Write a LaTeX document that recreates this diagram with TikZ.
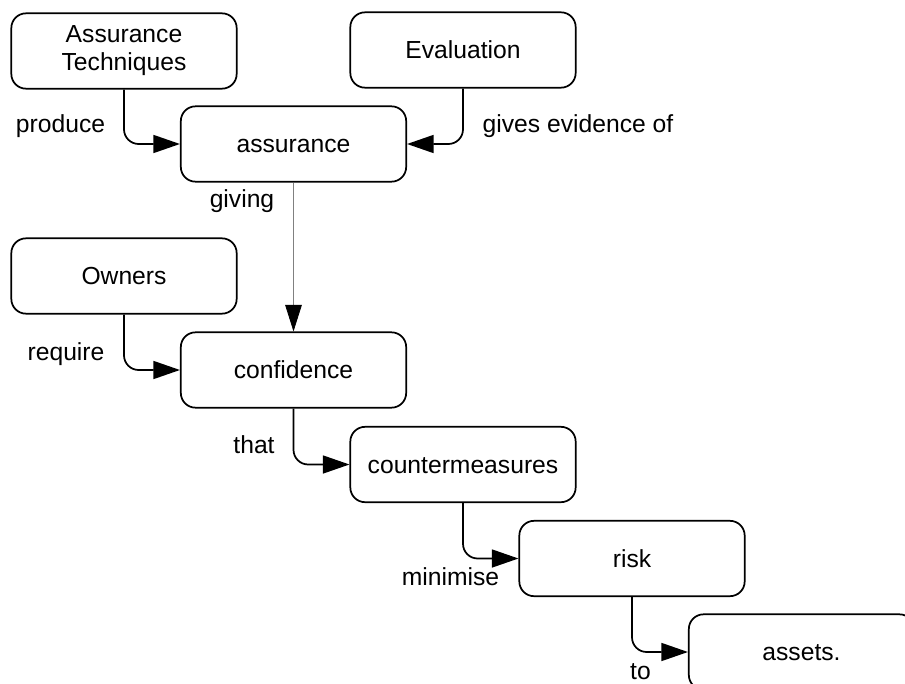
\documentclass[tikz,border=0pt]{standalone}
\usepackage{fontspec}
\setmainfont{Liberation Sans}
\usetikzlibrary{arrows.meta}

\begin{document}
\begin{tikzpicture}[x=0.75pt,y=0.75pt,yscale=-1,xscale=1,
    box/.style={draw, line width=1.3pt, rounded corners=11pt, minimum width=169pt, minimum height=56.5pt, inner sep=0pt,
        font=\fontsize{18.5pt}{21pt}\selectfont, text height=13.2pt, text depth=0pt},
    lbl/.style={anchor=base, inner sep=0pt, font=\fontsize{18.5pt}{21pt}\selectfont},
    conn/.style={line width=1.3pt, rounded corners=11pt, -{Triangle[length=20pt,width=13.5pt]}},
    link/.style={line width=0.6pt, draw=gray, -{Triangle[length=20pt,width=12.5pt,black]}}]
        \useasboundingbox (0,0) rectangle (905,684);
        \clip (0,0) rectangle (905,684);
        %Shape: Rounded Rect [id:tech]
        \node [box, align=center, text height=, text depth=] (tech) at (124,51) {Assurance\\Techniques};
        %Shape: Rounded Rect [id:eval]
        \node [box] (eval) at (463,50) {Evaluation};
        %Shape: Rounded Rect [id:asr]
        \node [box] (asr) at (293.5,144) {assurance};
        %Shape: Rounded Rect [id:own]
        \node [box] (own) at (124,276) {Owners};
        %Shape: Rounded Rect [id:conf]
        \node [box] (conf) at (293.5,370) {confidence};
        %Shape: Rounded Rect [id:cm]
        \node [box] (cm) at (463,464.5) {countermeasures};
        %Shape: Rounded Rect [id:risk]
        \node [box] (risk) at (632,558.5) {risk};
        %Shape: Rounded Rect [id:assets]
        \node [box] (assets) at (801.5,652) {assets.};
        %Connectors
        \draw [conn] (tech.south) |- (asr.west);
        \draw [conn] (eval.south) |- (asr.east);
        \draw [link] (asr.south) -- (conf.north);
        \draw [conn] (own.south) |- (conf.west);
        \draw [conn] (conf.south) |- (cm.west);
        \draw [conn] (cm.south) |- (risk.west);
        \draw [conn] (risk.south) |- (assets.west);
        % Text Node
        \node [lbl] (lproduce) at (60.5,133) {produce};
        % Text Node
        \node [lbl] (lgives) at (578,133) {gives evidence of};
        % Text Node
        \node [lbl] (lgiving) at (242,208) {giving};
        % Text Node
        \node [lbl] (lrequire) at (66,360) {require};
        % Text Node
        \node [lbl] (lthat) at (254,453) {that};
        % Text Node
        \node [lbl] (lminimise) at (450.5,585) {minimise};
        % Text Node
        \node [lbl] (lto) at (640.5,679) {to};
\end{tikzpicture}
\end{document}
